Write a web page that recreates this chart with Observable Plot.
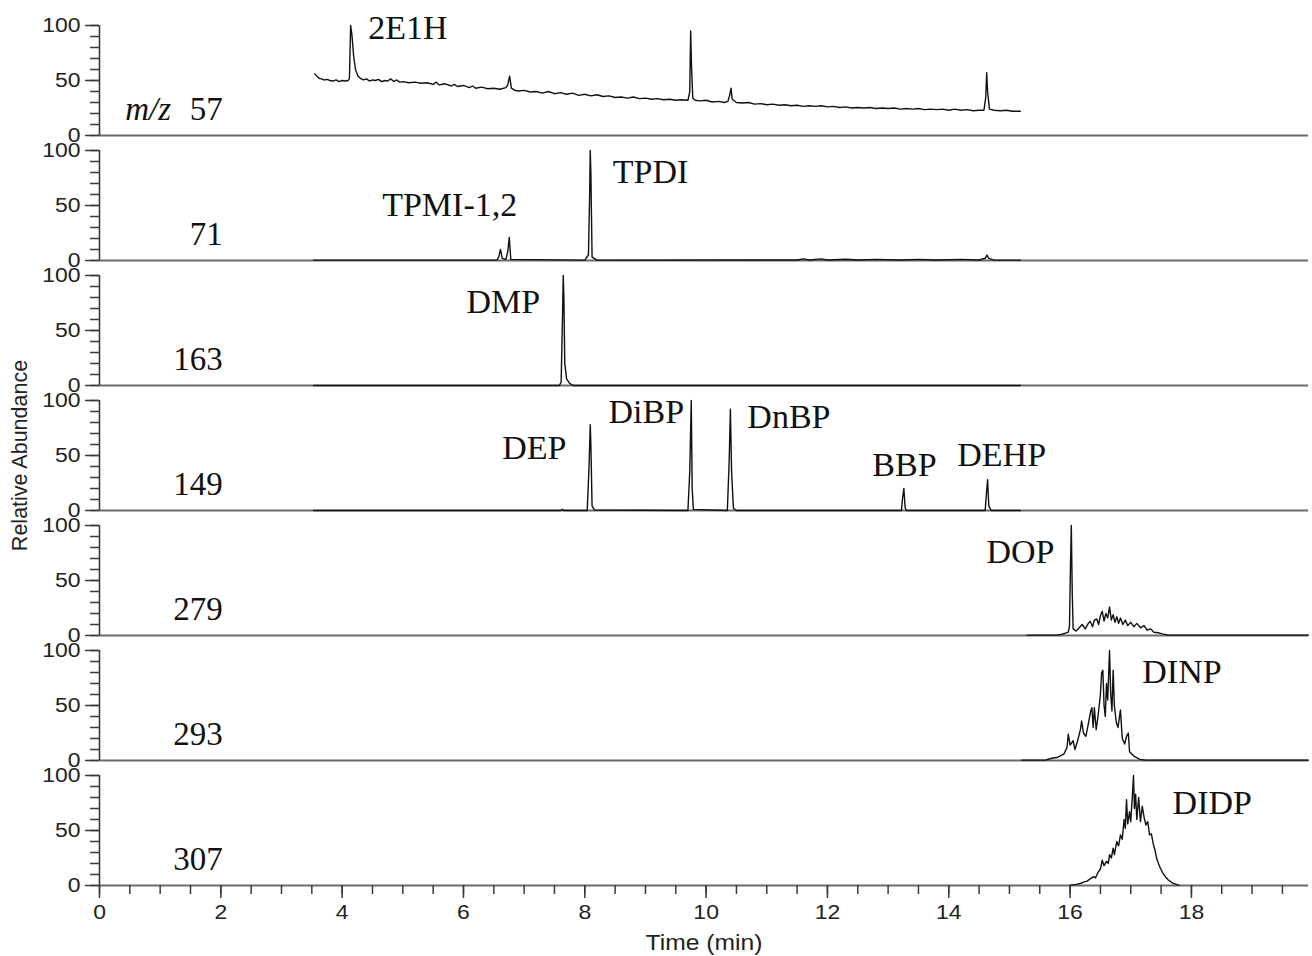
<!DOCTYPE html>
<html>
<head>
<meta charset="utf-8">
<script src="https://cdn.jsdelivr.net/npm/d3@7"></script>
<script src="https://cdn.jsdelivr.net/npm/@observablehq/plot@0.6"></script>
<style>
  html, body { margin: 0; padding: 0; background: #fff; }
  #chart svg { display: block; }
  g[aria-label="y-axis tick label"] text, g[aria-label="x-axis tick label"] text { font-size: 20.5px; }
  g[aria-label="x-axis label"] text { font-size: 22px; }
  g[aria-label="fy-axis label"] text { font-size: 21.5px; }
</style>
</head>
<body>
<div id="chart"></div>
<script>
// ---------- panels (m/z channels) ----------
const panels = ["57", "71", "163", "149", "279", "293", "307"];

// ---------- traces: [time (min), relative abundance] ----------
const trace57 = [[3.55,56],[3.58,54],[3.62,52],[3.66,51.5],[3.70,50.5],[3.75,51],[3.80,50],[3.85,49.5],[3.90,50.5],[3.95,49],[4.00,50],[4.05,49.5],[4.10,50],[4.12,52],[4.14,100],[4.16,92],[4.19,72],[4.22,60],[4.26,54],[4.30,52],[4.35,50.5],[4.40,51.5],[4.45,49.5],[4.50,50.5],[4.55,50],[4.60,51],[4.65,49],[4.70,50],[4.75,49.5],[4.80,51.5],[4.85,49],[4.90,50.5],[4.95,48.5],[5.00,49],[5.10,48],[5.20,48.5],[5.30,47.5],[5.40,48],[5.50,46.5],[5.55,48.5],[5.60,46],[5.70,47],[5.80,45],[5.85,46.5],[5.90,44.5],[6.00,45.5],[6.10,43.5],[6.15,45],[6.20,43],[6.30,44],[6.40,42.5],[6.50,43],[6.60,42],[6.70,43.5],[6.73,46],[6.76,54],[6.79,43],[6.85,41],[6.90,40.5],[7.00,41],[7.10,39.5],[7.20,40],[7.30,38.5],[7.40,40],[7.50,38],[7.60,39],[7.70,37.5],[7.80,38.5],[7.90,36.5],[8.00,37.5],[8.10,36],[8.20,37],[8.30,35.5],[8.40,36],[8.50,34.5],[8.60,35],[8.70,34],[8.80,35],[8.90,33.5],[9.00,34],[9.10,33],[9.20,33.5],[9.30,32.5],[9.40,33],[9.50,32],[9.60,32.5],[9.70,32],[9.73,40],[9.745,95],[9.76,62],[9.78,34],[9.82,32],[9.90,31.5],[10.00,32],[10.10,30.5],[10.20,31],[10.30,30],[10.36,31],[10.39,37],[10.41,43],[10.43,33],[10.50,30],[10.60,29.5],[10.70,30],[10.80,28.5],[10.90,29],[11.00,28],[11.10,28.5],[11.20,27.5],[11.30,28],[11.40,27],[11.50,27.5],[11.60,26.5],[11.70,27],[11.80,26.5],[11.90,27],[12.00,26],[12.10,26.5],[12.20,25.5],[12.30,26],[12.40,25],[12.50,25.5],[12.60,25],[12.70,25.5],[12.80,24.5],[12.90,25],[13.00,24.5],[13.10,25],[13.20,24],[13.30,24.5],[13.40,24],[13.50,24.5],[13.60,23.5],[13.70,24],[13.80,23.5],[13.90,24],[14.00,23],[14.10,24],[14.20,23],[14.30,23.5],[14.40,22.5],[14.50,23],[14.58,23],[14.61,35],[14.625,57],[14.64,40],[14.67,24],[14.75,23],[14.85,22.5],[14.95,23],[15.05,22],[15.18,22]];

const trace71 = [[3.53,0.3],[6.55,0.3],[6.58,3],[6.61,10],[6.64,2],[6.70,1],[6.73,8],[6.755,21],[6.78,1],[8.00,0.3],[8.06,5],[8.08,60],[8.09,100],[8.10,80],[8.12,3],[8.20,0.3],[11.50,0.5],[11.60,1.5],[11.70,0.5],[11.90,1.5],[12.00,0.5],[12.30,1.2],[12.50,0.5],[12.80,1],[13.20,0.5],[13.50,1],[13.80,0.5],[14.20,1],[14.50,0.5],[14.60,2],[14.63,5],[14.66,2],[14.75,0.3],[15.18,0.3]];

const trace163 = [[3.53,0],[7.58,0],[7.61,3],[7.63,55],[7.645,100],[7.655,80],[7.67,20],[7.70,6],[7.75,2],[7.81,0],[15.18,0]];

const trace149 = [[3.53,0],[7.60,0],[7.63,1],[7.66,0],[8.04,0],[8.07,40],[8.09,78],[8.10,60],[8.12,4],[8.16,0.5],[9.70,0],[9.73,35],[9.755,100],[9.77,20],[9.79,1],[10.35,0],[10.38,45],[10.40,92],[10.42,35],[10.45,2],[10.50,0],[13.22,0],[13.24,12],[13.26,20],[13.28,3],[13.30,0],[14.60,0],[14.62,15],[14.64,28],[14.66,4],[14.70,0],[15.18,0]];

const trace279 = [[15.29,0.3],[15.78,0.3],[15.85,1],[15.92,2],[15.97,3],[15.99,8],[16.005,60],[16.02,100],[16.035,40],[16.05,6],[16.10,4],[16.15,7],[16.20,10],[16.25,6],[16.30,11],[16.33,13],[16.37,8],[16.40,14],[16.44,15],[16.47,10],[16.50,18],[16.53,22],[16.56,13],[16.59,20],[16.62,16],[16.65,26],[16.68,14],[16.71,19],[16.74,12],[16.77,17],[16.80,11],[16.83,16],[16.87,10],[16.91,14],[16.95,9],[17.00,12],[17.05,8],[17.10,11],[17.16,7],[17.22,9],[17.27,5],[17.33,6],[17.38,3],[17.45,2.5],[17.52,1.5],[17.62,0.3],[19.93,0.3]];

const trace293 = [[15.20,0.3],[15.60,0.5],[15.70,2],[15.80,3],[15.90,6],[15.95,12],[15.97,24],[16.00,14],[16.05,18],[16.08,10],[16.12,17],[16.17,28],[16.19,36],[16.22,25],[16.26,22],[16.30,33],[16.34,45],[16.36,48],[16.38,30],[16.40,48],[16.43,28],[16.46,40],[16.50,60],[16.52,80],[16.54,82],[16.56,50],[16.58,40],[16.60,70],[16.62,55],[16.64,85],[16.65,100],[16.67,60],[16.69,45],[16.71,82],[16.73,50],[16.76,35],[16.79,30],[16.83,46],[16.86,20],[16.90,15],[16.93,22],[16.96,25],[16.98,8],[17.05,4],[17.15,1],[17.25,0.3],[19.93,0.3]];

const trace307 = [[16.00,0.3],[16.10,1],[16.18,2],[16.22,3],[16.28,4],[16.33,6],[16.39,8],[16.42,7],[16.46,12],[16.50,15],[16.53,23],[16.56,18],[16.60,22],[16.63,20],[16.65,28],[16.68,25],[16.71,34],[16.73,28],[16.77,40],[16.80,36],[16.83,46],[16.86,42],[16.89,60],[16.91,52],[16.93,78],[16.95,56],[16.98,67],[17.00,58],[17.03,85],[17.045,100],[17.06,70],[17.08,83],[17.10,60],[17.13,80],[17.16,58],[17.19,72],[17.22,62],[17.25,55],[17.28,58],[17.31,46],[17.34,47],[17.37,38],[17.40,32],[17.43,24],[17.47,18],[17.52,12],[17.57,8],[17.62,5],[17.70,2],[17.79,0.3]];

const traces = [trace57, trace71, trace163, trace149, trace279, trace293, trace307];

// ---------- peak labels ----------
const peakNames  = ["2E1H", "TPMI-1,2", "TPDI", "DMP", "DEP", "DiBP", "DnBP", "BBP", "DEHP", "DOP", "DINP", "DIDP"];
const peakPanels = ["57",   "71",       "71",   "163", "149", "149",  "149",  "149", "149",  "279", "293",  "307"];
const peakTimes  = [4.43,   4.66,       8.46,   6.05,  6.64,  8.39,   10.68,  12.74, 14.14,  14.62, 17.19,  17.69];
const peakLevels = [98,     50,         80,     76,    57,    89,     85,     41,    50,     76,    80,     75];

// ---------- panel (m/z) labels ----------
const mzPrefix = "m/z";
const mzLabelTime = 2.03;
const mzPrefixTime = 1.18;
const mzLabelLevel = 24;

// ---------- ticks ----------
const yMajorTicks = [0, 50, 100];
const yMinorTicks = [0, 10, 20, 30, 40, 50, 60, 70, 80, 90, 100];
const xMajorTicks = [0, 2, 4, 6, 8, 10, 12, 14, 16, 18];
const xMinorTicks = [0, 0.5, 1, 1.5, 2, 2.5, 3, 3.5, 4, 4.5, 5, 5.5, 6, 6.5, 7, 7.5, 8, 8.5, 9, 9.5, 10, 10.5, 11, 11.5, 12, 12.5, 13, 13.5, 14, 14.5, 15, 15.5, 16, 16.5, 17, 17.5, 18, 18.5, 19, 19.5];
const xDomain = [0, 19.93];

// ---------- build tables ----------
const rows = panels.flatMap((mz, i) => traces[i].map(([t, v]) => ({mz, t, v})));
const peakRows = peakNames.map((name, i) => ({name, mz: peakPanels[i], t: peakTimes[i], v: peakLevels[i]}));
const mzRows = panels.map(mz => ({mz, t: mzLabelTime, v: mzLabelLevel}));
const prefixRows = [{mz: panels[0], t: mzPrefixTime, v: mzLabelLevel, text: mzPrefix}];

const axisColor = "#3a3a3a";
const serif = "'Liberation Serif', 'Times New Roman', serif";

const chart = Plot.plot({
  width: 1312,
  height: 956,
  marginLeft: 99,
  marginRight: 4,
  marginTop: 25,
  marginBottom: 71,
  style: {fontFamily: "'Liberation Sans', Arial, sans-serif", fontSize: "20px", color: "#222", background: "#fff"},
  x: {domain: xDomain},
  y: {domain: [0, 100]},
  fy: {domain: panels, paddingInner: 0.12, paddingOuter: 0, axis: null},
  marks: [
    // baseline of each panel
    Plot.ruleY([0], {stroke: "#6a6a6a", strokeWidth: 2}),
    // traces
    Plot.line(rows, {x: "t", y: "v", fy: "mz", z: "mz", stroke: "#111", strokeWidth: 1.4}),
    // vertical axis line
    Plot.ruleX([0], {y1: 0, y2: 100, stroke: axisColor, strokeWidth: 1.6}),
    // y axes
    Plot.axisY({ticks: yMinorTicks, tickSize: 9, fill: "none", stroke: axisColor, strokeWidth: 1.5, label: null}),
    Plot.axisY({ticks: yMajorTicks, tickSize: 14, tickPadding: 5, stroke: axisColor, strokeWidth: 1.5, fill: "#222", fontSize: 20.5, label: null}),
    // x axes
    Plot.axisX({ticks: xMinorTicks, tickSize: 9, fill: "none", stroke: axisColor, strokeWidth: 1.5, label: null}),
    Plot.axisX({ticks: xMajorTicks, tickSize: 13, tickPadding: 6, stroke: axisColor, strokeWidth: 1.5, fill: "#222", fontSize: 20.5,
      label: "Time (min)", labelAnchor: "center", labelArrow: "none", labelOffset: 64}),
    // y title
    Plot.axisFy({anchor: "left", tickSize: 0, tickFormat: () => "", label: "Relative Abundance", labelAnchor: "center", labelOffset: 88, fill: "#222"}),
    // m/z labels
    Plot.text(mzRows, {x: "t", y: "v", fy: "mz", text: "mz", textAnchor: "end", fontFamily: serif, fontSize: 33, fill: "#111"}),
    Plot.text(prefixRows, {x: "t", y: "v", fy: "mz", text: "text", textAnchor: "end", fontFamily: serif, fontSize: 33, fontStyle: "italic", fill: "#111"}),
    // peak labels
    Plot.text(peakRows, {x: "t", y: "v", fy: "mz", text: "name", textAnchor: "start", fontFamily: serif, fontSize: 34, fill: "#111"})
  ]
});

document.getElementById("chart").appendChild(chart);

// widen the sans-serif axis texts horizontally, as in the reference
chart.querySelectorAll('g[aria-label="y-axis tick label"] text, g[aria-label="x-axis tick label"] text, g[aria-label="x-axis label"] text').forEach(t => {
  const w = t.getComputedTextLength();
  if (w > 0) {
    t.setAttribute("textLength", (w * 1.12).toFixed(2));
    t.setAttribute("lengthAdjust", "spacingAndGlyphs");
  }
});
</script>
</body>
</html>
